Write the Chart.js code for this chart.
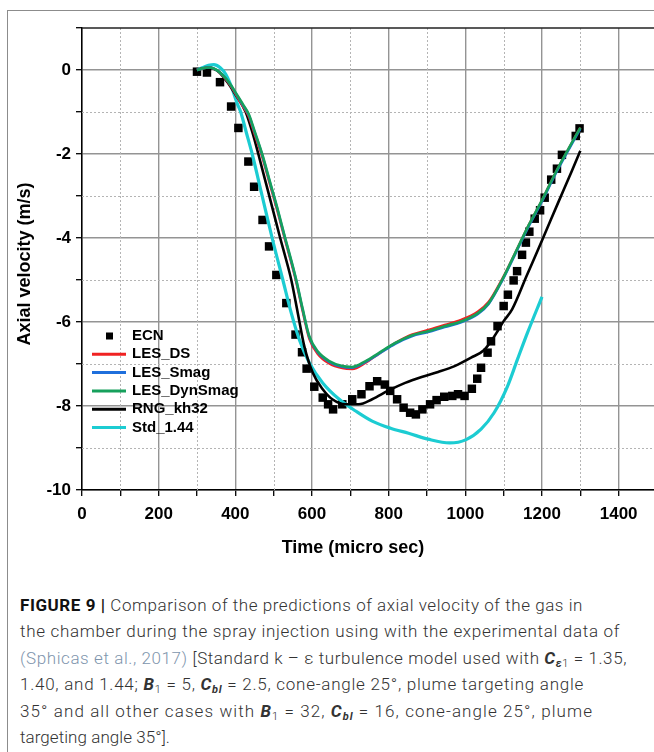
<!DOCTYPE html>
<html>
<head>
<meta charset="utf-8">
<script src="https://cdn.jsdelivr.net/npm/chart.js@4.4.1/dist/chart.umd.min.js"></script>
<style>
  html, body { margin: 0; padding: 0; background: #fff; width: 654px; height: 752px; overflow: hidden; }
  .frame { position: absolute; left: 7px; top: 10px; width: 700px; height: 800px;
           border-left: 1px solid #8c8c8c; border-top: 1px solid #8c8c8c; }
  .plot { position: absolute; left: 0; top: 0; width: 680px; height: 560px; }
  .caption { position: absolute; left: 20px; top: 592px;
             font-family: Roboto, 'Liberation Sans', sans-serif; font-size: 17px; font-weight: 300;
             line-height: 26.4px; color: #333; }
  .caption .line { white-space: nowrap; width: max-content; }
  .caption b { font-weight: 700; }
  .caption b.fig { color: #111; }
  .caption .ref { color: #8095ad; }
  .caption sub { font-size: 11px; vertical-align: -3px; line-height: 0; }
</style>
</head>
<body>
<div class="frame"></div>
<div class="plot"><canvas id="velocity-chart"></canvas></div>
<div class="caption">
  <div class="line" data-w="563"><b class="fig">FIGURE 9 |</b> Comparison of the predictions of axial velocity of the gas in</div>
  <div class="line" data-w="600">the chamber during the spray injection using with the experimental data of</div>
  <div class="line" data-w="607"><span class="ref">(Sphicas et al., 2017)</span> [Standard k – ε turbulence model used with <b><i>C</i></b><sub><b><i>ε</i></b>1</sub> = 1.35,</div>
  <div class="line" data-w="564">1.40, and 1.44; <b><i>B</i></b><sub>1</sub> = 5, <b><i>C<sub>bl</sub></i></b> = 2.5, cone-angle 25°, plume targeting angle</div>
  <div class="line" data-w="573">35° and all other cases with <b><i>B</i></b><sub>1</sub> = 32, <b><i>C<sub>bl</sub></i></b> = 16, cone-angle 25°, plume</div>
  <div class="line" data-w="150">targeting angle 35°].</div>
</div>
<script>
// ECN measurements (micro sec, m/s)
const ecnTime = [300, 326, 360, 389, 408, 434, 449, 471, 488, 507, 533, 557, 574, 586, 606, 628, 642, 655,
  679, 705, 729, 750, 770, 790, 804, 822, 839, 856, 871, 888, 908, 925, 945, 966, 981, 998, 1017, 1031,
  1041, 1058, 1067, 1084, 1100, 1111, 1126, 1135, 1148, 1158, 1167, 1181, 1195, 1207, 1224, 1239, 1252,
  1288, 1298];
const ecnVel = [-0.04, -0.06, -0.29, -0.87, -1.38, -2.18, -2.78, -3.57, -4.20, -4.88, -5.55, -6.30, -6.72,
  -7.11, -7.54, -7.80, -7.96, -8.08, -7.96, -7.84, -7.72, -7.53, -7.41, -7.49, -7.64, -7.84, -8.04, -8.16,
  -8.20, -8.08, -7.96, -7.86, -7.78, -7.76, -7.72, -7.76, -7.59, -7.35, -7.09, -6.73, -6.46, -6.10, -5.62,
  -5.35, -5.01, -4.79, -4.40, -4.11, -3.85, -3.54, -3.34, -3.04, -2.61, -2.35, -2.02, -1.57, -1.39];

// LES runs share one time base
const lesTime = [300, 315, 330, 345, 360, 375, 390, 405, 420, 435, 450, 470, 490, 510, 530, 545, 559, 576,
  593, 615, 645, 679, 705, 740, 774, 817, 860, 903, 946, 989, 1033, 1061, 1096, 1130, 1165, 1200, 1234,
  1269, 1300];
const lesDsVel = [0, 0.04, 0.06, 0.03, -0.07, -0.22, -0.41, -0.64, -0.87, -1.11, -1.52, -2.07, -2.72, -3.37,
  -4.06, -4.56, -5.06, -5.76, -6.40, -6.76, -6.99, -7.10, -7.12, -6.97, -6.76, -6.50, -6.30, -6.19, -6.07,
  -5.95, -5.75, -5.52, -4.98, -4.36, -3.70, -3.10, -2.47, -1.88, -1.37];
const lesSmagVel = [0, 0.04, 0.06, 0.03, -0.06, -0.20, -0.39, -0.61, -0.84, -1.07, -1.47, -2.02, -2.67,
  -3.32, -4.02, -4.52, -5.02, -5.72, -6.36, -6.72, -6.95, -7.07, -7.09, -6.95, -6.76, -6.52, -6.34, -6.24,
  -6.12, -6.01, -5.81, -5.57, -5.02, -4.39, -3.73, -3.13, -2.50, -1.91, -1.40];
const lesDynSmagVel = [0, 0.04, 0.06, 0.03, -0.06, -0.20, -0.38, -0.60, -0.82, -1.05, -1.45, -2.00, -2.65,
  -3.30, -4.00, -4.50, -5.00, -5.70, -6.34, -6.70, -6.93, -7.05, -7.07, -6.93, -6.74, -6.50, -6.32, -6.22,
  -6.10, -5.99, -5.79, -5.55, -5.00, -4.36, -3.70, -3.10, -2.47, -1.88, -1.37];

const rngTime = [300, 315, 330, 345, 360, 380, 400, 427, 445, 460, 480, 500, 517, 532, 546, 563, 580, 602,
  628, 653, 688, 722, 757, 800, 843, 886, 929, 972, 1015, 1050, 1067, 1084, 1100, 1122, 1160, 1200, 1243,
  1277, 1300];
const rngVel = [0, 0.04, 0.05, 0.02, -0.07, -0.30, -0.58, -1.00, -1.50, -2.00, -2.70, -3.40, -4.00, -4.50,
  -5.00, -5.79, -6.58, -7.21, -7.60, -7.84, -7.96, -7.96, -7.84, -7.63, -7.45, -7.31, -7.19, -7.05, -6.85,
  -6.66, -6.46, -6.22, -5.98, -5.70, -4.90, -4.06, -3.14, -2.42, -1.92];

const stdTime = [300, 315, 330, 344, 360, 375, 390, 405, 414, 429, 444, 470, 496, 524, 546, 567, 593, 628,
  671, 714, 757, 805, 852, 903, 959, 1002, 1041, 1075, 1110, 1136, 1162, 1200];
const stdVel = [0, 0.06, 0.11, 0.13, 0.06, -0.10, -0.40, -0.80, -1.00, -1.50, -2.00, -3.00, -4.00, -5.00,
  -5.79, -6.42, -6.97, -7.45, -7.84, -8.12, -8.36, -8.53, -8.65, -8.79, -8.88, -8.80, -8.55, -8.16, -7.53,
  -6.89, -6.26, -5.40];

const xTickLabels = [0, 200, 400, 600, 800, 1000, 1200, 1400];
const yTickLabels = [0, -2, -4, -6, -8, -10];

const FONT = "'Liberation Sans', Arial, sans-serif";
const pts = (t, v) => t.map((x, i) => ({ x, y: v[i] }));

function curve(label, t, v, color, width, order) {
  return {
    label, data: pts(t, v), showLine: true, borderColor: color, backgroundColor: color,
    borderWidth: width, pointRadius: 0, cubicInterpolationMode: 'monotone', order
  };
}

// dotted minor grid + top frame line
const minorGrid = {
  id: 'minorGrid',
  beforeDatasetsDraw(chart) {
    const { ctx, chartArea: a, scales: { x, y } } = chart;
    ctx.save();
    ctx.strokeStyle = '#b4b4b4';
    ctx.lineWidth = 1;
    ctx.setLineDash([2, 2]);
    x.ticks.forEach(t => {
      if (xTickLabels.includes(t.value) || t.value >= x.max) return;
      const px = Math.round(x.getPixelForValue(t.value)) + 0.5;
      ctx.beginPath(); ctx.moveTo(px, a.top); ctx.lineTo(px, a.bottom); ctx.stroke();
    });
    y.ticks.forEach(t => {
      if (yTickLabels.includes(t.value) || t.value >= y.max) return;
      const py = Math.round(y.getPixelForValue(t.value)) + 0.5;
      ctx.beginPath(); ctx.moveTo(a.left, py); ctx.lineTo(a.right, py); ctx.stroke();
    });
    ctx.setLineDash([]);
    ctx.strokeStyle = '#222';
    ctx.lineWidth = 1.5;
    ctx.beginPath(); ctx.moveTo(a.left, a.top); ctx.lineTo(a.right, a.top); ctx.stroke();
    ctx.restore();
  }
};

// axis titles and the inset legend
const annotations = {
  id: 'annotations',
  afterDraw(chart) {
    const { ctx, chartArea: a } = chart;
    ctx.save();
    ctx.fillStyle = '#000';
    ctx.font = 'bold 18px ' + FONT;
    ctx.textAlign = 'center';
    ctx.textBaseline = 'middle';
    ctx.fillText('Time (micro sec)', a.left + 271, a.bottom + 58);
    ctx.save();
    ctx.translate(25, a.top + 236);
    ctx.rotate(-Math.PI / 2);
    ctx.fillText('Axial velocity (m/s)', 0, 0);
    ctx.restore();

    const x0 = a.left + 10, x1 = a.left + 44, tx = a.left + 50;
    let yy = a.top + 308;
    ctx.font = 'bold 15px ' + FONT;
    ctx.textAlign = 'left';
    chart.data.datasets.forEach(ds => {
      if (ds.pointStyle === 'rect') {
        ctx.fillRect(a.left + 24, yy - 3.5, 7, 7);
      } else {
        ctx.strokeStyle = ds.borderColor;
        ctx.lineWidth = 3;
        ctx.beginPath(); ctx.moveTo(x0, yy); ctx.lineTo(x1, yy); ctx.stroke();
      }
      ctx.fillStyle = '#000';
      ctx.fillText(ds.label, tx, yy);
      yy += 18.3;
    });
    ctx.restore();
  }
};

new Chart(document.getElementById('velocity-chart'), {
  type: 'scatter',
  data: {
    datasets: [
      { label: 'ECN', data: pts(ecnTime, ecnVel), pointStyle: 'rect', pointRadius: 6, pointHoverRadius: 6,
        backgroundColor: '#000', borderColor: '#000', borderWidth: 0, order: 6 },
      curve('LES_DS', lesTime, lesDsVel, '#f02222', 2.4, 3),
      curve('LES_Smag', lesTime, lesSmagVel, '#1f6fdc', 2.4, 2),
      curve('LES_DynSmag', lesTime, lesDynSmagVel, '#16a05c', 2.6, 1),
      curve('RNG_kh32', rngTime, rngVel, '#000000', 2.6, 4),
      curve('Std_1.44', stdTime, stdVel, '#1cccd2', 3.2, 5)
    ]
  },
  options: {
    responsive: true, maintainAspectRatio: false, animation: false,
    layout: { padding: { top: 28, right: 23, left: 0, bottom: 0 } },
    plugins: { legend: { display: false }, tooltip: { enabled: false } },
    scales: {
      x: {
        type: 'linear', min: 0, max: 1500,
        afterFit: s => { s.height = 70; },
        border: { color: '#000', width: 1.5 },
        grid: {
          color: c => xTickLabels.includes(c.tick.value) ? '#949494' : 'rgba(0,0,0,0)',
          lineWidth: 1.4, tickColor: '#000', tickLength: 6, tickWidth: 1.3
        },
        ticks: {
          stepSize: 100, autoSkip: false, maxRotation: 0, padding: 8, color: '#000',
          font: { family: FONT, size: 17, weight: 'bold' },
          callback: v => xTickLabels.includes(v) ? String(v) : ''
        }
      },
      y: {
        type: 'linear', min: -10, max: 1,
        afterFit: s => { s.width = 82; },
        border: { color: '#000', width: 1.5 },
        grid: {
          color: c => yTickLabels.includes(c.tick.value) ? '#949494' : 'rgba(0,0,0,0)',
          lineWidth: 1.4, tickColor: '#000', tickLength: 6, tickWidth: 1.3
        },
        ticks: {
          stepSize: 1, autoSkip: false, padding: 5, color: '#000',
          font: { family: FONT, size: 17, weight: 'bold' },
          callback: v => yTickLabels.includes(v) ? String(v) : ''
        }
      }
    }
  },
  plugins: [minorGrid, annotations]
});

// spread each caption line to its set width
function fitCaption() {
  document.querySelectorAll('.caption .line').forEach(el => {
    el.style.letterSpacing = '0px';
    const w = el.getBoundingClientRect().width;
    const n = el.textContent.trim().length;
    el.style.letterSpacing = ((Number(el.dataset.w) - w) / n).toFixed(3) + 'px';
  });
}
fitCaption();
if (document.fonts) document.fonts.ready.then(fitCaption);
</script>
</body>
</html>
